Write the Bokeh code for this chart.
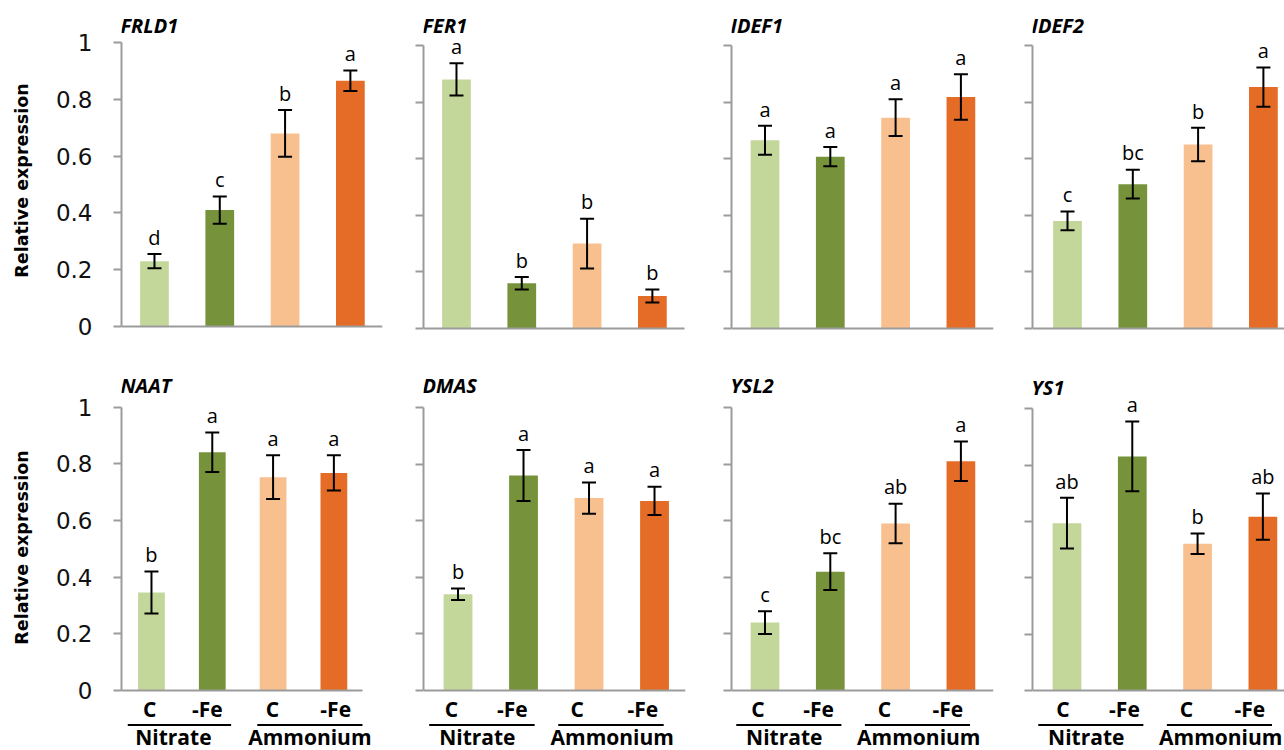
from bokeh.plotting import figure
from bokeh.layouts import row, column
from bokeh.models import ColumnDataSource, Range1d, LinearAxis, FixedTicker, Whisker, TeeHead
from bokeh.core.properties import value
from bokeh.embed import file_html
from bokeh.resources import INLINE

# ---------------- data ----------------
treatments = ["C", "-Fe", "C", "-Fe"]
nitrogen_sources = ["Nitrate", "Ammonium"]
bar_colors = ["#C4D79B", "#76933C", "#F8C08F", "#E46C26"]
genes = ["FRLD1", "FER1", "IDEF1", "IDEF2", "NAAT", "DMAS", "YSL2", "YS1"]

frld1_mean = [0.23, 0.41, 0.68, 0.865]
frld1_err = [0.025, 0.048, 0.082, 0.036]
frld1_sig = ["d", "c", "b", "a"]

fer1_mean = [0.88, 0.16, 0.30, 0.115]
fer1_err = [0.057, 0.022, 0.088, 0.023]
fer1_sig = ["a", "b", "b", "b"]

idef1_mean = [0.665, 0.607, 0.745, 0.818]
idef1_err = [0.051, 0.034, 0.065, 0.080]
idef1_sig = ["a", "a", "a", "a"]

idef2_mean = [0.38, 0.51, 0.65, 0.853]
idef2_err = [0.033, 0.051, 0.059, 0.069]
idef2_sig = ["c", "bc", "b", "a"]

naat_mean = [0.346, 0.841, 0.753, 0.768]
naat_err = [0.074, 0.070, 0.077, 0.062]
naat_sig = ["b", "a", "a", "a"]

dmas_mean = [0.34, 0.76, 0.68, 0.67]
dmas_err = [0.020, 0.090, 0.055, 0.050]
dmas_sig = ["b", "a", "a", "a"]

ysl2_mean = [0.24, 0.42, 0.59, 0.81]
ysl2_err = [0.040, 0.065, 0.070, 0.070]
ysl2_sig = ["c", "bc", "ab", "a"]

ys1_mean = [0.594, 0.831, 0.521, 0.617]
ys1_err = [0.090, 0.124, 0.036, 0.082]
ys1_sig = ["ab", "a", "b", "ab"]

y_ticks = [0, 0.2, 0.4, 0.6, 0.8, 1]
y_tick_labels = ["0", "0.2", "0.4", "0.6", "0.8", "1"]
y_axis_title = "Relative expression"

# ---------------- layout / style ----------------
FONT = "Open Sans"
TICK_FONT = "DejaVu Sans"
AXIS_GRAY = "#9b9b9b"
MID = 0.388  # Open Sans: em distance from alphabetic baseline up to text middle
COL_EDGES = [0, 398, 710, 1010, 1284]
TOP_Y, ROW_SPLIT, BOTTOM_Y = 0, 344, 750
BAR_WIDTH = 0.44
positions = [1, 2, 3, 4]
LETTER_SIZE, TITLE_SIZE, TREAT_SIZE, GROUP_SIZE = 20, 20, 21, 21

# fl/fr: frame edges, x0/ux: x mapping, xl: end of x-axis line, yz/uy: y mapping,
# ft: frame top, tgap: px between the 1-tick and the gene name baseline,
# ts: shift of treatment labels, gs: group line extents relative to first/last bar
top_layout = [
    dict(fl=121, fr=382, x0=0.495, ux=65.3, xl=382, yz=326, uy=284.0, ft=16, tgap=9),
    dict(fl=423, fr=685, x0=0.495, ux=65.3, xl=684, yz=328, uy=283.0, ft=16, tgap=12),
    dict(fl=731, fr=993, x0=0.487, ux=65.3, xl=993, yz=328, uy=283.0, ft=16, tgap=12),
    dict(fl=1032, fr=1284, x0=0.464, ux=65.3, xl=1284, yz=328, uy=283.0, ft=16, tgap=12),
]
bottom_layout = [
    dict(fl=121, fr=382, x0=0.507, ux=60.8, xl=362, yz=690, uy=283.3, ft=344, tgap=14,
         ts=[-0.03, -0.08, -0.01, 0.03], gs=[(-0.39, 0.31), (-0.26, 0.47)], gl=[-0.1, 0.0]),
    dict(fl=423, fr=685, x0=0.473, ux=65.5, xl=685, yz=690, uy=283.0, ft=344, tgap=14,
         ts=[-0.10, -0.17, -0.18, -0.18], gs=[(-0.44, 0.17), (-0.47, 0.14)], gl=[-0.07, 0.02]),
    dict(fl=731, fr=993, x0=0.487, ux=65.3, xl=993, yz=690, uy=283.0, ft=344, tgap=14,
         ts=[-0.11, -0.18, -0.17, -0.2], gs=[(-0.44, 0.17), (-0.47, 0.14)], gl=[-0.07, 0.02]),
    dict(fl=1032, fr=1284, x0=0.472, ux=65.3, xl=1284, yz=690, uy=281.7, ft=344, tgap=14,
         ts=[-0.06, -0.12, -0.17, -0.2], gs=[(-0.44, 0.17), (-0.47, 0.14)], gl=[-0.07, 0.02]),
]

panel_data = [
    (frld1_mean, frld1_err, frld1_sig), (fer1_mean, fer1_err, fer1_sig),
    (idef1_mean, idef1_err, idef1_sig), (idef2_mean, idef2_err, idef2_sig),
    (naat_mean, naat_err, naat_sig), (dmas_mean, dmas_err, dmas_sig),
    (ysl2_mean, ysl2_err, ysl2_sig), (ys1_mean, ys1_err, ys1_sig),
]


def build_panel(gene, mean, err, sig, lay, fig_top, fig_bottom, col_left, col_right,
                first_col, with_categories):
    fw = lay["fr"] - lay["fl"]
    x_start = lay["x0"]
    x_end = x_start + fw / lay["ux"]
    y_start = -(fig_bottom - lay["yz"]) / lay["uy"]
    y_end = (lay["yz"] - lay["ft"]) / lay["uy"]
    p = figure(width=col_right - col_left, height=fig_bottom - fig_top,
               x_range=Range1d(x_start, x_end), y_range=Range1d(y_start, y_end),
               min_border_left=lay["fl"] - col_left, min_border_right=col_right - lay["fr"],
               min_border_top=lay["ft"] - fig_top, min_border_bottom=0,
               x_axis_type=None, y_axis_type=None,
               toolbar_location=None, output_backend="svg")
    p.outline_line_color = None
    p.background_fill_color = "white"
    p.border_fill_color = "white"

    yax = LinearAxis(ticker=FixedTicker(ticks=y_ticks), bounds=(0, 1))
    yax.axis_line_color = AXIS_GRAY
    yax.axis_line_width = 2
    yax.major_tick_line_color = AXIS_GRAY
    yax.major_tick_line_width = 2
    yax.major_tick_out = 8
    yax.major_tick_in = 0
    yax.minor_tick_line_color = None
    yax.minor_tick_out = 0
    if first_col:
        yax.major_label_overrides = {t: s for t, s in zip(y_ticks, y_tick_labels)}
        yax.major_label_text_font = TICK_FONT
        yax.major_label_text_font_size = "23px"
        yax.major_label_text_color = "#111111"
        yax.major_label_standoff = 21
        yax.axis_label = y_axis_title
        yax.axis_label_text_font = TICK_FONT
        yax.axis_label_text_font_style = "bold"
        yax.axis_label_text_font_size = "17.5px"
        yax.axis_label_text_color = "black"
        yax.axis_label_standoff = 21
    else:
        yax.major_label_overrides = {t: "" for t in y_ticks}
        yax.major_label_text_color = None
        yax.major_label_standoff = 0
    p.add_layout(yax, "left")

    # horizontal category axis line at y = 0
    xax = LinearAxis(ticker=FixedTicker(ticks=[]), fixed_location=0,
                     bounds=(x_start, x_start + (lay["xl"] - lay["fl"]) / lay["ux"]))
    xax.axis_line_color = AXIS_GRAY
    xax.axis_line_width = 2
    xax.major_tick_line_color = None
    xax.minor_tick_line_color = None
    xax.major_tick_out = 0
    xax.minor_tick_out = 0
    xax.major_label_text_color = None
    xax.major_label_standoff = 0
    p.add_layout(xax, "below")

    upper = [m + e for m, e in zip(mean, err)]
    lower = [m - e for m, e in zip(mean, err)]
    src = ColumnDataSource(dict(x=positions, mean=mean, upper=upper, lower=lower,
                                color=bar_colors, sig=sig))
    p.vbar(x="x", top="mean", width=BAR_WIDTH, fill_color="color", line_color=None, source=src)
    p.add_layout(Whisker(base="x", upper="upper", lower="lower", source=src, level="annotation",
                         line_color="black", line_width=2,
                         upper_head=TeeHead(size=14, line_width=2, line_color="black"),
                         lower_head=TeeHead(size=14, line_width=2, line_color="black")))
    p.text(x="x", y="upper", text="sig", source=src, text_align="center",
           text_baseline="middle", y_offset=-(9 + MID * LETTER_SIZE), text_font=value(FONT),
           text_font_size=f"{LETTER_SIZE}px", text_color="black")
    # gene name, left aligned at the y axis
    p.text(x=[x_start], y=[1.0], text=[gene], x_offset=-1,
           y_offset=-(lay["tgap"] + MID * TITLE_SIZE),
           text_align="left", text_baseline="middle", text_font=value(FONT),
           text_font_style="bold italic", text_font_size=f"{TITLE_SIZE}px", text_color="black")

    if with_categories:
        # treatment labels under each bar
        p.text(x=[x + s for x, s in zip(positions, lay["ts"])], y=[0] * 4, text=treatments,
               y_offset=27 - MID * TREAT_SIZE,
               text_align="center", text_baseline="middle", text_font=value(FONT),
               text_font_style="bold", text_font_size=f"{TREAT_SIZE}px", text_color="black")
        # nitrogen source group lines and names
        (n0, n1), (a0, a1) = lay["gs"]
        g_start = [positions[0] + n0, positions[2] + a0]
        g_end = [positions[1] + n1, positions[3] + a1]
        line_y = -34.5 / lay["uy"]
        p.segment(x0=g_start, y0=[line_y] * 2, x1=g_end, y1=[line_y] * 2,
                  line_color="black", line_width=2)
        p.text(x=[(a + b) / 2 + d for a, b, d in zip(g_start, g_end, lay["gl"])], y=[0] * 2,
               y_offset=54.5 - MID * GROUP_SIZE,
               text=nitrogen_sources, text_align="center", text_baseline="middle",
               text_font=value(FONT), text_font_style="bold",
               text_font_size=f"{GROUP_SIZE}px", text_color="black")
    return p


cols = []
for i in range(4):
    cl, cr = COL_EDGES[i], COL_EDGES[i + 1]
    m, e, sg = panel_data[i]
    top = build_panel(genes[i], m, e, sg, top_layout[i], TOP_Y, ROW_SPLIT, cl, cr,
                      i == 0, False)
    m, e, sg = panel_data[i + 4]
    bot = build_panel(genes[i + 4], m, e, sg, bottom_layout[i], ROW_SPLIT, BOTTOM_Y, cl, cr,
                      i == 0, True)
    cols.append(column(top, bot, spacing=0))

layout = row(*cols, spacing=0)

open("out.html", "w").write(file_html(layout, INLINE))
